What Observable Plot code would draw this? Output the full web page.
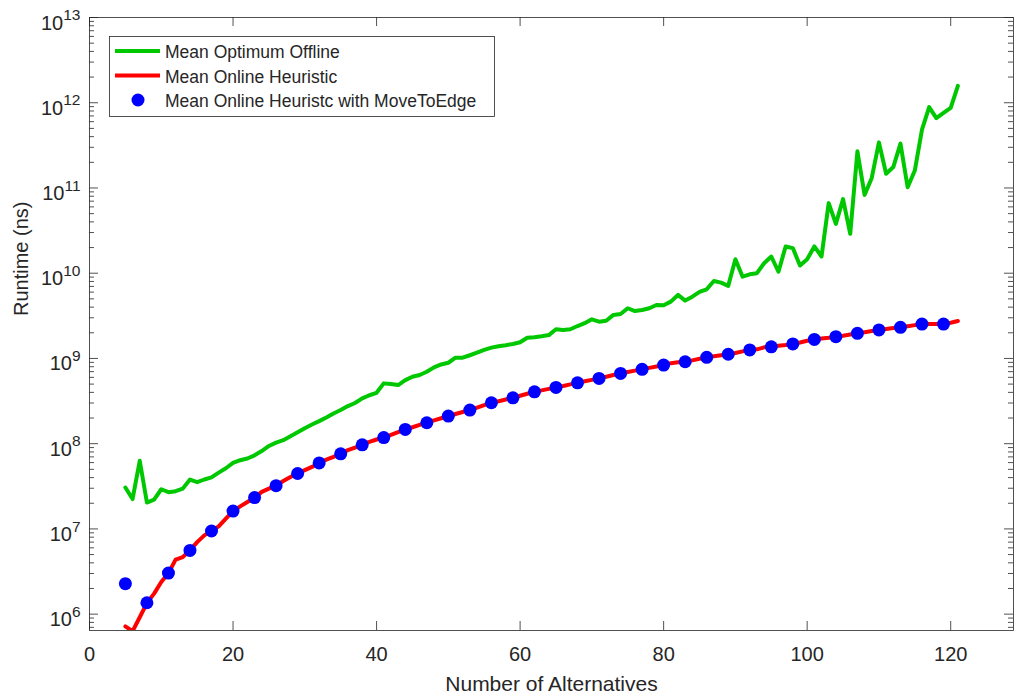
<!DOCTYPE html>
<html><head><meta charset="utf-8">
<script src="https://cdn.jsdelivr.net/npm/d3@7"></script>
<script src="https://cdn.jsdelivr.net/npm/@observablehq/plot@0.6"></script>
<style>body{margin:0;background:#fff}</style>
</head><body><div id="chart"></div>
<script>
// ---- data ----
const alternatives = [5,6,7,8,9,10,11,12,13,14,15,16,17,18,19,20,21,22,23,24,25,26,27,28,29,30,31,32,33,34,35,36,37,38,39,40,41,42,43,44,45,46,47,48,49,50,51,52,53,54,55,56,57,58,59,60,61,62,63,64,65,66,67,68,69,70,71,72,73,74,75,76,77,78,79,80,81,82,83,84,85,86,87,88,89,90,91,92,93,94,95,96,97,98,99,100,101,102,103,104,105,106,107,108,109,110,111,112,113,114,115,116,117,118,119,120,121];

const optimumOffline = [3.06e7,2.24e7,6.3e7,2.04e7,2.2e7,2.92e7,2.7e7,2.77e7,2.97e7,3.79e7,3.53e7,3.8e7,4.03e7,4.58e7,5.15e7,5.94e7,6.4e7,6.7e7,7.3e7,8.2e7,9.4e7,1.03e8,1.1e8,1.22e8,1.36e8,1.52e8,1.68e8,1.84e8,2.03e8,2.26e8,2.48e8,2.76e8,3.0e8,3.4e8,3.7e8,3.95e8,5.1e8,5.0e8,4.87e8,5.57e8,6.1e8,6.4e8,6.98e8,7.86e8,8.5e8,8.9e8,1.02e9,1.02e9,1.09e9,1.17e9,1.26e9,1.34e9,1.39e9,1.43e9,1.48e9,1.55e9,1.75e9,1.77e9,1.82e9,1.88e9,2.2e9,2.16e9,2.2e9,2.4e9,2.59e9,2.88e9,2.7e9,2.77e9,3.24e9,3.32e9,3.88e9,3.6e9,3.7e9,3.88e9,4.24e9,4.2e9,4.64e9,5.56e9,4.77e9,5.3e9,6.03e9,6.48e9,8.1e9,7.76e9,7.1e9,1.46e10,9.1e9,9.7e9,1.0e10,1.31e10,1.57e10,1.04e10,2.06e10,1.97e10,1.23e10,1.46e10,2.06e10,1.57e10,6.64e10,3.79e10,7.4e10,2.9e10,2.69e11,8.3e10,1.31e11,3.43e11,1.47e11,1.76e11,3.31e11,1.02e11,1.6e11,4.83e11,8.9e11,6.6e11,7.6e11,8.7e11,1.58e12];

const onlineHeuristic = [7.2e5,6.3e5,9.2e5,1.35e6,1.74e6,2.38e6,3.03e6,4.36e6,4.68e6,5.6e6,7.0e6,8.4e6,9.45e6,1.07e7,1.32e7,1.62e7,1.84e7,2.07e7,2.33e7,2.72e7,2.97e7,3.22e7,3.65e7,4.07e7,4.47e7,4.89e7,5.34e7,5.94e7,6.5e7,7.0e7,7.6e7,8.4e7,9.0e7,9.7e7,1.05e8,1.12e8,1.18e8,1.27e8,1.37e8,1.47e8,1.56e8,1.66e8,1.76e8,1.88e8,1.99e8,2.11e8,2.23e8,2.35e8,2.48e8,2.65e8,2.83e8,3.02e8,3.15e8,3.3e8,3.45e8,3.65e8,3.85e8,4.06e8,4.22e8,4.4e8,4.57e8,4.75e8,4.97e8,5.18e8,5.4e8,5.6e8,5.83e8,6.1e8,6.4e8,6.68e8,6.93e8,7.2e8,7.45e8,7.75e8,8.05e8,8.36e8,8.8e8,9.0e8,9.14e8,9.5e8,9.9e8,1.03e9,1.06e9,1.09e9,1.12e9,1.16e9,1.21e9,1.26e9,1.28e9,1.35e9,1.37e9,1.41e9,1.44e9,1.48e9,1.54e9,1.61e9,1.67e9,1.71e9,1.75e9,1.8e9,1.85e9,1.91e9,1.97e9,2.03e9,2.1e9,2.16e9,2.21e9,2.27e9,2.32e9,2.39e9,2.46e9,2.53e9,2.53e9,2.54e9,2.55e9,2.62e9,2.75e9];

const moveToEdgeX = [5,8,11,14,17,20,23,26,29,32,35,38,41,44,47,50,53,56,59,62,65,68,71,74,77,80,83,86,89,92,95,98,101,104,107,110,113,116,119];
const moveToEdge = [2.28e6,1.36e6,3.03e6,5.6e6,9.45e6,1.62e7,2.33e7,3.22e7,4.47e7,5.94e7,7.6e7,9.7e7,1.18e8,1.47e8,1.76e8,2.11e8,2.48e8,3.02e8,3.45e8,4.06e8,4.57e8,5.18e8,5.83e8,6.68e8,7.45e8,8.36e8,9.14e8,1.03e9,1.12e9,1.26e9,1.37e9,1.48e9,1.67e9,1.8e9,1.97e9,2.16e9,2.32e9,2.53e9,2.53e9];

const xTicks = [0,20,40,60,80,100,120];
const yTicks = [1e6,1e7,1e8,1e9,1e10,1e11,1e12,1e13];
const yMinorTicks = [];
for (const d of [1e5,1e6,1e7,1e8,1e9,1e10,1e11,1e12]) for (const m of [2,3,4,5,6,7,8,9]) yMinorTicks.push(m*d);

const seriesNames = ["Mean Optimum Offline","Mean Online Heuristic","Mean Online Heuristc with MoveToEdge"];
const seriesColors = ["#00c800","#ff0000","#0000ff"];

// ---- layout ----
const W = 1014, H = 695, mL = 89, mR = 1, mT = 17, mB = 65;
const pw = W - mL - mR, ph = H - mT - mB;
const yDomain = [6.43e5, 1e13];
const axisColor = "#262626";
const fontStack = "'Liberation Sans', Arial, Helvetica, sans-serif";

const green = alternatives.map((x,i)=>({x, y: optimumOffline[i]}));
const red = alternatives.map((x,i)=>({x, y: onlineHeuristic[i]}));
const blue = moveToEdgeX.map((x,i)=>({x, y: moveToEdge[i]}));
const minorIn = yMinorTicks.filter(v => v >= yDomain[0] && v <= yDomain[1]);

const chart = Plot.plot({
  width: W, height: H,
  marginLeft: mL, marginRight: mR, marginTop: mT, marginBottom: mB,
  style: {fontFamily: fontStack, color: axisColor, background: "#fff"},
  x: {domain: [0, 128.75]},
  y: {type: "log", domain: yDomain},
  marks: [
    Plot.line(green, {x: "x", y: "y", stroke: seriesColors[0], strokeWidth: 4, strokeLinejoin: "round", clip: true}),
    Plot.line(red, {x: "x", y: "y", stroke: seriesColors[1], strokeWidth: 4, strokeLinejoin: "round", clip: true}),
    Plot.dot(blue, {x: "x", y: "y", r: 6.5, fill: seriesColors[2], stroke: "none", clip: true}),
    // ticks pointing inwards on all four sides
    Plot.ruleX(xTicks, {stroke: axisColor, strokeWidth: 0.8, insetTop: ph - 9}),
    Plot.ruleX(xTicks, {stroke: axisColor, strokeWidth: 0.8, insetBottom: ph - 9}),
    Plot.ruleY(yTicks, {stroke: axisColor, strokeWidth: 0.8, insetRight: pw - 9}),
    Plot.ruleY(yTicks, {stroke: axisColor, strokeWidth: 0.8, insetLeft: pw - 9}),
    Plot.ruleY(minorIn, {stroke: axisColor, strokeWidth: 0.8, insetRight: pw - 5}),
    Plot.ruleY(minorIn, {stroke: axisColor, strokeWidth: 0.8, insetLeft: pw - 5}),
    Plot.frame({stroke: axisColor, strokeWidth: 0.8}),
    Plot.axisX(xTicks, {tickSize: 0, tickPadding: 16.3, fontSize: 20, label: null, fill: axisColor}),
    Plot.axisY(yTicks, {tickSize: 0, tickPadding: 9, dy: 5.6, fontSize: 20, label: null, fill: axisColor,
      tickFormat: d => String(Math.round(Math.log10(d)))}),
    Plot.text(["Number of Alternatives"], {frameAnchor: "bottom", dy: 60, lineAnchor: "bottom", fontSize: 21, fill: axisColor}),
    Plot.text(["Runtime (ns)"], {frameAnchor: "left", rotate: -90, dx: -61.7, dy: -8, lineAnchor: "bottom", fontSize: 20, fill: axisColor})
  ]
});
document.getElementById("chart").appendChild(chart);

const svg = d3.select(chart.tagName.toLowerCase() === "svg" ? chart : chart.querySelector("svg"));

// superscript exponents on y tick labels
svg.selectAll('g[aria-label="y-axis tick label"] text').each(function() {
  const e = this.textContent;
  this.textContent = "10";
  d3.select(this).append("tspan").attr("dy", "-9.3").attr("font-size", 15.5).text(e);
});

// legend
const lg = svg.append("g")
  .attr("font-family", fontStack).attr("font-size", 17.5)
  .attr("fill", axisColor).attr("text-anchor", "start");
lg.append("rect").attr("x", 109.5).attr("y", 36.5).attr("width", 385).attr("height", 80)
  .attr("fill", "#fff").attr("stroke", axisColor).attr("stroke-width", 0.8);
const rowY = [51, 75.5, 100];
seriesNames.forEach((name, i) => {
  const y = rowY[i];
  if (i < 2) {
    lg.append("line").attr("x1", 115).attr("x2", 160).attr("y1", y).attr("y2", y)
      .attr("stroke", seriesColors[i]).attr("stroke-width", 4);
  } else {
    lg.append("circle").attr("cx", 138).attr("cy", y).attr("r", 6.5).attr("fill", seriesColors[i]);
  }
  lg.append("text").attr("x", 165).attr("y", y + 7.3).attr("text-anchor", "start").text(name);
});
</script>
</body></html>
